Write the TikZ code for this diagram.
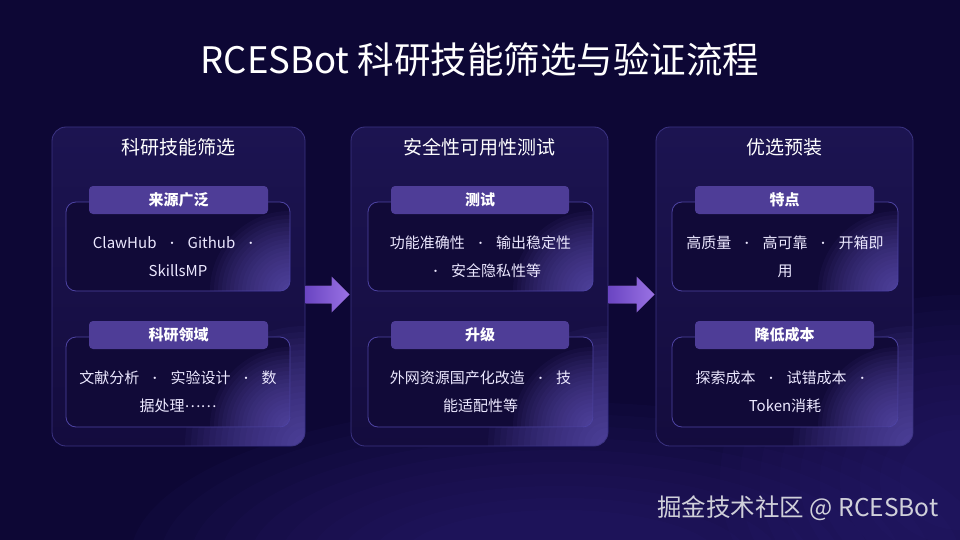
\documentclass[tikz,border=0pt]{standalone}
\usepackage{fontspec}
\setmainfont{Noto Sans CJK SC}
\usetikzlibrary{calc}
\definecolor{bg}{HTML}{0D0735}
\definecolor{swirl}{HTML}{3A2C8C}
\definecolor{panelTop}{HTML}{1C1451}
\definecolor{panelBot}{HTML}{140C3E}
\definecolor{panelBorder}{HTML}{3B3382}
\definecolor{glow}{HTML}{7262D0}
\definecolor{boxFill}{HTML}{110A38}
\definecolor{boxBorder}{HTML}{4D43A2}
\definecolor{tabFill}{HTML}{4E3D97}
\definecolor{bodyText}{HTML}{ECE8FF}
\definecolor{arrowL}{HTML}{6A45C2}
\definecolor{arrowR}{HTML}{9A72E4}
\definecolor{footer}{HTML}{D0D0DA}
\newcommand\sepdot{\ \ \ \raisebox{1pt}{\fontsize{11}{11}\selectfont·}\ \ \ }
\begin{document}
\begin{tikzpicture}[x=1pt,y=-1pt,
  panel/.style={rounded corners=14pt, draw=panelBorder, line width=0.8pt,
    top color=panelTop, bottom color=panelBot, minimum height=319pt,
    path picture={\foreach \r in {6,12,...,120}{\fill[glow, opacity=0.05] (path picture bounding box.south east) circle [radius=\r pt];}}},
  ibox/.style={rounded corners=10pt, draw=boxBorder, line width=0.8pt, fill=boxFill,
    path picture={\foreach \r in {4,8,...,80}{\fill[glow, opacity=0.055] (path picture bounding box.south east) circle [radius=\r pt];}}},
  tab/.style={rounded corners=4pt, fill=tabFill, minimum height=28pt, text=white,
    font=\fontsize{15}{18}\selectfont\bfseries, inner sep=0pt},
  head/.style={text=white, font=\fontsize{19}{22}\selectfont},
  body/.style={text=bodyText, align=center, font=\fontsize{15}{28}\selectfont},
  barrow/.style={left color=arrowL, right color=arrowR}
]
\fill[bg] (0,0) rectangle (960,540);
\useasboundingbox (0,0) rectangle (960,540);
% background swirls
\foreach \k in {1,...,10}{
  \fill[swirl, opacity=0.06] (560,560) ellipse [x radius={460pt-30pt*\k}, y radius={170pt-12pt*\k}];
  \fill[swirl, opacity=0.06] (960,480) ellipse [x radius={260pt-20pt*\k}, y radius={200pt-15pt*\k}];
}

% title
\node[text=white, font=\fontsize{36.5}{42}\selectfont] (title) at (480,60) {RCESBot 科研技能筛选与验证流程};

% panels
\node[panel, minimum width=253pt] (p1) at (178.5,286.5) {};
\node[panel, minimum width=257pt] (p2) at (479.5,286.5) {};
\node[panel, minimum width=257pt] (p3) at (784.5,286.5) {};

% headers
\node[head] (h1) at (178.5,147) {科研技能筛选};
\node[head] (h2) at (479.5,147) {安全性可用性测试};
\node[head] (h3) at (784.5,147) {优选预装};

% inner boxes
\node[ibox, minimum width=224pt, minimum height=89pt] (b11) at (178,246.5) {};
\node[ibox, minimum width=224pt, minimum height=90pt] (b12) at (178,382) {};
\node[ibox, minimum width=225pt, minimum height=89pt] (b21) at (480.5,246.5) {};
\node[ibox, minimum width=225pt, minimum height=90pt] (b22) at (480.5,382) {};
\node[ibox, minimum width=226pt, minimum height=89pt] (b31) at (785,246.5) {};
\node[ibox, minimum width=226pt, minimum height=90pt] (b32) at (785,382) {};

% tabs
\node[tab, minimum width=179pt] (t11) at (178.5,200) {来源广泛};
\node[tab, minimum width=179pt] (t12) at (178.5,335) {科研领域};
\node[tab, minimum width=178pt] (t21) at (480,200) {测试};
\node[tab, minimum width=178pt] (t22) at (480,335) {升级};
\node[tab, minimum width=179pt] (t31) at (784.5,200) {特点};
\node[tab, minimum width=179pt] (t32) at (784.5,335) {降低成本};

% body texts
\node[body] (x11) at (178,257) {ClawHub\sepdot Github\sepdot\\SkillsMP};
\node[body] (x12) at (178,392) {文献分析\sepdot 实验设计\sepdot 数\\据处理\raisebox{4.5pt}{……}};
\node[body] (x21) at (480.5,257) {功能准确性\sepdot 输出稳定性\\\sepdot 安全隐私性等};
\node[body] (x22) at (480.5,392) {外网资源国产化改造\sepdot 技\\能适配性等};
\node[body] (x31) at (785,257) {高质量\sepdot 高可靠\sepdot 开箱即\\用};
\node[body] (x32) at (785,392) {探索成本\sepdot 试错成本\sepdot\\Token消耗};

% block arrows
\coordinate (a1s) at ($(p1.east)+(0,8)$);
\coordinate (a1e) at ($(p2.west)+(-1,8)$);
\coordinate (a2s) at ($(p2.east)+(0,8)$);
\coordinate (a2e) at ($(p3.west)+(-1,8)$);
\foreach \s/\e in {a1s/a1e, a2s/a2e}{
  \fill[barrow] ($(\s)+(0,-9)$) -- ($(\e)+(-18,-9)$) -- ($(\e)+(-18,-18)$) -- (\e)
    -- ($(\e)+(-18,18)$) -- ($(\e)+(-18,9)$) -- ($(\s)+(0,9)$) -- cycle;
}

% footer
\node[text=footer, anchor=east, font=\fontsize{24.5}{28}\selectfont] (foot) at (942,508) {掘金技术社区 @ RCESBot};
\end{tikzpicture}
\end{document}
